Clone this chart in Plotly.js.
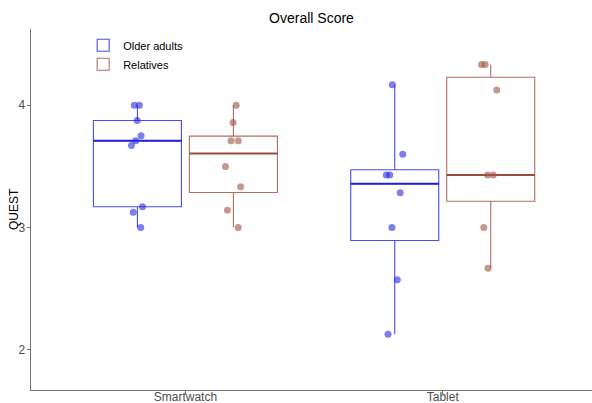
<!DOCTYPE html>
<html>
<head>
<meta charset="utf-8">
<script src="https://cdn.plot.ly/plotly-3.0.1.min.js"></script>
<style>html,body{margin:0;padding:0;background:#fff;}#chart{width:592px;height:403px;}</style>
</head>
<body>
<div id="chart"></div>
<script>
// ---- data ----
const categories = ['Smartwatch', 'Tablet'];
const groupNames = ['Older adults', 'Relatives'];
const olderSmartwatch = [4.0, 4.0, 3.875, 3.75, 3.71, 3.67, 3.17, 3.125, 3.0];
const olderTablet = [4.167, 3.6, 3.43, 3.43, 3.285, 3.0, 2.574, 2.128];
const relativesSmartwatch = [4.0, 3.858, 3.71, 3.71, 3.5, 3.334, 3.142, 3.0];
const relativesTablet = [4.333, 4.333, 4.125, 3.43, 3.43, 3.0, 2.667];
const yTicks = [2, 3, 4];

const blue = 'rgb(30,30,225)';
const blueBox = 'rgba(30,30,225,0.8)';
const bluePts = 'rgba(40,40,225,0.6)';
const brown = 'rgb(155,75,62)';
const brownBox = 'rgba(165,85,72,0.85)';
const brownPts = 'rgba(160,82,68,0.6)';
const FONT = 'Liberation Sans, Arial, sans-serif';

function q7(arr, p) {
  const s = arr.slice().sort((a, b) => a - b);
  const h = (s.length - 1) * p;
  const lo = Math.floor(h), hi = Math.ceil(h);
  return s[lo] + (h - lo) * (s[hi] - s[lo]);
}
function stats(list) {
  return {
    q1: list.map(a => q7(a, 0.25)),
    median: list.map(a => q7(a, 0.5)),
    q3: list.map(a => q7(a, 0.75)),
    lo: list.map(a => Math.min(...a)),
    hi: list.map(a => Math.max(...a))
  };
}

function makeTraces(name, group, dataList, lineCol, boxCol, ptsCol) {
  const st = stats(dataList);
  const boxTrace = {
    type: 'box', name: name, x: categories, offsetgroup: group,
    q1: st.q1, median: st.median, q3: st.q3,
    lowerfence: st.lo, upperfence: st.hi,
    line: {color: boxCol, width: 1.1}, fillcolor: 'rgba(255,255,255,0)',
    whiskerwidth: 0, boxpoints: false, hoverinfo: 'skip'
  };
  const medTrace = {
    type: 'box', name: name, x: categories, offsetgroup: group,
    q1: st.median, median: st.median, q3: st.median,
    lowerfence: st.median, upperfence: st.median,
    line: {color: lineCol, width: 2}, fillcolor: 'rgba(255,255,255,0)',
    whiskerwidth: 0, boxpoints: false, showlegend: false, hoverinfo: 'skip'
  };
  const xs = [], ys = [];
  dataList.forEach((arr, i) => arr.forEach(v => { xs.push(categories[i]); ys.push(v); }));
  const ptsTrace = {
    type: 'box', name: name, x: xs, y: ys, offsetgroup: group,
    boxpoints: 'all', jitter: 0.22, pointpos: 0,
    line: {width: 0, color: 'rgba(0,0,0,0)'}, fillcolor: 'rgba(0,0,0,0)',
    marker: {color: ptsCol, size: 7, line: {width: 0}},
    whiskerwidth: 0, showlegend: false, hoverinfo: 'y'
  };
  return [boxTrace, medTrace, ptsTrace];
}

const traces = [
  ...makeTraces(groupNames[0], 'older', [olderSmartwatch, olderTablet], blue, blueBox, bluePts),
  ...makeTraces(groupNames[1], 'rel', [relativesSmartwatch, relativesTablet], brown, brownBox, brownPts)
];

const axisCol = 'rgb(115,115,115)';
const layout = {
  width: 592, height: 403,
  margin: {l: 31, r: 0, t: 29, b: 13, pad: 0},
  paper_bgcolor: '#fff', plot_bgcolor: '#fff',
  font: {family: FONT, color: '#000'},
  title: {text: 'Overall Score', font: {size: 14, color: '#000', family: FONT},
          x: 0.5, xref: 'paper', xanchor: 'center', y: 1 - 18 / 403, yref: 'container', yanchor: 'middle'},
  boxmode: 'group', boxgap: 0.254, boxgroupgap: 0.083,
  showlegend: true,
  legend: {x: 0.093, y: 0.995, xanchor: 'left', yanchor: 'top', bgcolor: 'rgba(0,0,0,0)',
           font: {size: 11, color: '#000', family: FONT}, tracegroupgap: 0},
  xaxis: {type: 'category', range: [-0.6, 1.58], showline: true, linecolor: axisCol, linewidth: 1.3,
          ticks: 'outside', ticklen: 3, tickcolor: axisCol, showgrid: false, zeroline: false,
          ticklabelstandoff: -8,
          tickfont: {size: 12, color: '#4d4d4d', family: FONT}, automargin: false, fixedrange: true},
  yaxis: {range: [1.672, 4.623], tickvals: yTicks, ticktext: yTicks.map(String),
          showline: true, linecolor: axisCol, linewidth: 1.3,
          ticks: 'outside', ticklen: 3, tickcolor: axisCol, showgrid: false, zeroline: false,
          ticklabelstandoff: -1,
          tickfont: {size: 12, color: '#4d4d4d', family: FONT}, automargin: false},
  annotations: [{text: 'QUEST', textangle: -90, xref: 'paper', x: -17.5 / 561, xanchor: 'center',
                 yref: 'paper', y: 0.5, yanchor: 'middle', showarrow: false,
                 font: {size: 12, color: '#000', family: FONT}}]
};

Plotly.newPlot('chart', traces, layout, {displayModeBar: false, staticPlot: true});
</script>
</body>
</html>
